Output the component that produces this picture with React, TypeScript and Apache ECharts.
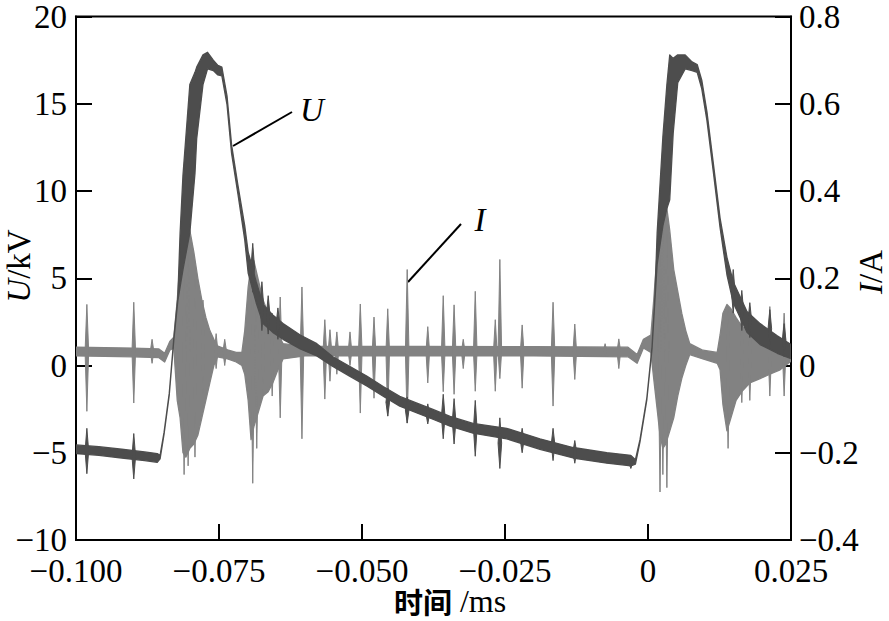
import React, { useEffect, useRef } from 'react';
import * as echarts from 'echarts';

// axis ranges
const xRange = [-0.1, 0.025];
const xStep = 0.025;
const uRange = [-10, 20];
const uStep = 5;
const iRange = [-0.4, 0.8];
const iStep = 0.2;
const iBaseline = 0.032;

// U (kV): [t(ms), low edge, high edge] of the noisy trace
const uBand: number[][] = [
  [-0.1, -5.05, -4.55], [-0.096, -5.15, -4.65], [-0.092, -5.3, -4.8], [-0.088, -5.45, -4.95],
  [-0.0858, -5.55, -5.05], [-0.0853, -5.35, -5.15], [-0.0846, -3.92, -3.82], [-0.0837, -1.7, -1.6],
  [-0.0829, 1.45, 1.55], [-0.0822, 3.7, 3.9], [-0.0818, 4.5, 7.6], [-0.0813, 5.5, 10.9],
  [-0.0801, 7.6, 16.1], [-0.0792, 11.0, 16.8], [-0.0789, 13.0, 17.1], [-0.0778, 16.1, 17.8],
  [-0.077, 17.0, 17.95], [-0.076, 16.9, 17.5], [-0.0752, 16.65, 17.2], [-0.0745, 16.6, 17.1],
  [-0.0736, 14.95, 15.45], [-0.0728, 12.15, 12.65], [-0.0717, 9.85, 10.35], [-0.0705, 7.2, 8.0],
  [-0.0699, 5.3, 6.5], [-0.0685, 3.6, 4.8], [-0.0673, 2.4, 3.5], [-0.0656, 1.9, 2.9],
  [-0.0638, 1.5, 2.4], [-0.0608, 0.95, 1.75], [-0.0579, 0.55, 1.25], [-0.0551, -0.05, 0.5],
  [-0.0521, -0.62, -0.06], [-0.0491, -1.18, -0.62], [-0.0463, -1.76, -1.2], [-0.0434, -2.33, -1.77],
  [-0.0404, -2.72, -2.16], [-0.0376, -3.08, -2.52], [-0.0346, -3.48, -2.92], [-0.0306, -3.88, -3.32],
  [-0.0247, -4.2, -3.6], [-0.0189, -4.8, -4.2], [-0.0131, -5.3, -4.7], [-0.0072, -5.6, -5.0],
  [-0.003, -5.75, -5.15], [-0.0022, -5.65, -5.4], [-0.0014, -4.38, -4.25], [-0.0002, -1.95, -1.85],
  [0.0007, 0.95, 1.05], [0.0012, 3.7, 3.9], [0.0016, 5.8, 7.6], [0.0026, 8.0, 13.1],
  [0.0033, 9.0, 16.1], [0.0038, 9.5, 17.8], [0.0044, 13.3, 17.6], [0.0052, 16.2, 17.8],
  [0.0065, 17.0, 17.8], [0.0077, 16.9, 17.4], [0.0086, 16.8, 17.25], [0.0094, 15.85, 16.35],
  [0.0103, 14.05, 14.55], [0.0114, 11.15, 11.65], [0.0126, 7.9, 8.45], [0.0138, 5.2, 6.2],
  [0.0149, 3.6, 4.8], [0.0173, 1.9, 3.1], [0.0196, 1.2, 2.4], [0.0226, 0.7, 1.7],
  [0.025, 0.4, 1.2],
];

// U spikes: [t, high, low]
const uSpikes: number[][] = [
  [-0.0981, -3.6, -6.2], [-0.0899, -3.9, -6.5], [-0.0691, 7.0, 4.2], [-0.0675, 4.8, 2.0],
  [-0.0664, 4.0, 1.8], [-0.0647, 3.3, 1.5], [-0.0455, -1.3, -2.9], [-0.0421, -1.8, -3.3],
  [-0.0385, -2.2, -3.35], [-0.0358, -1.65, -4.2], [-0.0339, -1.9, -4.5], [-0.0302, -2.0, -5.2],
  [-0.0259, -3.0, -5.9], [-0.022, -3.6, -5.0], [-0.0166, -3.6, -5.45], [-0.0128, -4.3, -5.6],
  [-0.003, -5.3, -5.9], [0.0149, 5.5, 3.0], [0.0164, 4.3, 2.0], [0.0178, 3.6, 1.6],
  [0.0213, 3.2, 1.0], [0.0238, 2.4, 0.5],
];

// I (A): [t, low edge, high edge] of the noisy trace, bursts included
const iBand: number[][] = [
  [-0.1, 0.022, 0.042], [-0.09, 0.02, 0.04], [-0.0855, 0.018, 0.038], [-0.0845, 0.008, 0.028],
  [-0.0836, 0.035, 0.055], [-0.0829, 0.04, 0.065], [-0.0823, -0.08, 0.15], [-0.0818, -0.12, 0.24],
  [-0.0813, -0.2, 0.29], [-0.0808, -0.21, 0.31], [-0.0801, -0.19, 0.31], [-0.0794, -0.18, 0.26],
  [-0.0787, -0.16, 0.2], [-0.078, -0.12, 0.15], [-0.0773, -0.08, 0.11], [-0.0766, -0.04, 0.08],
  [-0.0759, 0.0, 0.06], [-0.0753, 0.02, 0.045], [-0.0735, 0.015, 0.036], [-0.072, 0.008, 0.03],
  [-0.071, 0.0, 0.03], [-0.0705, -0.02, 0.08], [-0.0699, -0.08, 0.18], [-0.0694, -0.17, 0.23],
  [-0.0689, -0.14, 0.24], [-0.0682, -0.11, 0.2], [-0.0673, -0.07, 0.15], [-0.0664, -0.06, 0.12],
  [-0.0656, -0.04, 0.1], [-0.0647, -0.01, 0.07], [-0.0638, 0.015, 0.05], [-0.06, 0.022, 0.044],
  [-0.04, 0.022, 0.044], [-0.02, 0.022, 0.043], [-0.0035, 0.02, 0.042], [-0.0019, 0.005, 0.025],
  [-0.0008, 0.04, 0.06], [0.0005, 0.03, 0.07], [0.001, -0.03, 0.15], [0.0016, -0.1, 0.26],
  [0.0021, -0.16, 0.33], [0.0026, -0.19, 0.37], [0.0031, -0.18, 0.38], [0.0038, -0.15, 0.31],
  [0.0045, -0.12, 0.22], [0.0052, -0.07, 0.17], [0.0059, -0.03, 0.12], [0.0066, 0.0, 0.08],
  [0.0073, 0.025, 0.05], [0.0096, 0.015, 0.035], [0.0121, 0.005, 0.03], [0.0126, -0.01, 0.07],
  [0.0131, -0.09, 0.12], [0.0138, -0.15, 0.14], [0.0145, -0.12, 0.13], [0.0154, -0.08, 0.11],
  [0.0164, -0.06, 0.09], [0.0178, -0.04, 0.08], [0.0196, -0.03, 0.06], [0.0213, -0.02, 0.06],
  [0.0231, -0.01, 0.05], [0.025, 0.01, 0.045],
];

// I spikes: [t, high, low]
const iSpikes: number[][] = [
  [-0.0981, 0.14, -0.105], [-0.0899, 0.145, -0.086], [-0.0867, 0.06, 0.005],
  [-0.0811, 0.25, -0.25], [-0.0804, 0.28, -0.23], [-0.0792, 0.2, -0.21], [-0.0778, 0.15, -0.066],
  [-0.0755, 0.073, -0.007], [-0.074, 0.06, 0.0],
  [-0.0691, 0.24, -0.27], [-0.0684, 0.2, -0.19], [-0.0673, 0.15, -0.07], [-0.0657, 0.12, -0.07],
  [-0.0643, 0.157, -0.12], [-0.0605, 0.18, -0.168], [-0.0565, 0.105, -0.077], [-0.0556, 0.082, -0.036],
  [-0.0544, 0.077, -0.02], [-0.0521, 0.077, 0.0], [-0.0503, 0.141, -0.109], [-0.0479, 0.111, -0.075],
  [-0.0455, 0.13, -0.116], [-0.0421, 0.22, -0.132], [-0.0385, 0.089, -0.04], [-0.0358, 0.16, -0.06],
  [-0.0339, 0.139, -0.066], [-0.0323, 0.06, -0.007], [-0.0302, 0.17, -0.059], [-0.0267, 0.105, -0.059],
  [-0.0259, 0.243, -0.03], [-0.022, 0.093, -0.052], [-0.0166, 0.145, -0.093], [-0.0128, 0.095, -0.032],
  [-0.0075, 0.05, 0.02], [-0.0051, 0.061, -0.007],
  [0.0021, 0.3, -0.29], [0.0026, 0.34, -0.25], [0.0033, 0.3, -0.28],
  [0.014, 0.13, -0.19], [0.0164, 0.12, -0.085], [0.0178, 0.12, -0.08], [0.0213, 0.135, -0.07],
  [0.0238, 0.12, -0.07],
];

const U_COLOR = '#4d4d4d';
const I_COLOR = '#828282';
const SERIF = '"Liberation Serif", "Times New Roman", serif';

const fmt = (digits: number) => (v: number) => {
  if (Math.abs(v) < 1e-9) return '0';
  return (v < 0 ? '\u2212' : '') + Math.abs(v).toFixed(digits);
};

function bandRenderer(band: number[][], color: string) {
  return (params: any, api: any) => {
    if (params.dataIndex !== 0) return null;
    const upper = band.map((p) => api.coord([p[0], p[2]]));
    const lower = band.slice().reverse().map((p) => api.coord([p[0], p[1]]));
    return {
      type: 'polygon',
      shape: { points: upper.concat(lower) },
      style: { fill: color, stroke: color, lineWidth: 1.3, lineJoin: 'round' },
    };
  };
}

function spikeRenderer(color: string, baseOf: (hi: number, lo: number) => number) {
  return (params: any, api: any) => {
    const t = api.value(0);
    const hi = api.value(1);
    const lo = api.value(2);
    const top = api.coord([t, hi]);
    const bot = api.coord([t, lo]);
    const base = api.coord([t, baseOf(hi, lo)]);
    return {
      type: 'polygon',
      shape: {
        points: [
          [top[0], top[1]],
          [base[0] + 1.8, base[1]],
          [bot[0], bot[1]],
          [base[0] - 1.8, base[1]],
        ],
      },
      style: { fill: color, stroke: color, lineWidth: 1 },
    };
  };
}

export default function App() {
  const ref = useRef<HTMLDivElement>(null);
  useEffect(() => {
    document.body.style.margin = '0';
    const chart = echarts.init(ref.current!, null, { renderer: 'svg' });
    const labelStyle = { fontFamily: SERIF, fontSize: 33, lineHeight: 24, color: '#000' };
    const axisLine = { show: true, onZero: false, lineStyle: { color: '#000', width: 2 } };
    const axisTick = { show: true, inside: true, length: 16, lineStyle: { color: '#000', width: 2 } };
    const nameRich = { i: { fontStyle: 'italic', fontFamily: SERIF, fontSize: 33, lineHeight: 26, fill: '#000' } };
    chart.setOption({
      animation: false,
      backgroundColor: '#fff',
      grid: {
        left: 76, top: 12, width: 715, height: 528,
        show: true, borderColor: '#000', borderWidth: 2, backgroundColor: 'transparent',
      },
      xAxis: {
        type: 'value', min: xRange[0], max: xRange[1], interval: xStep,
        axisLine, axisTick, splitLine: { show: false },
        axisLabel: { ...labelStyle, margin: 19, formatter: fmt(3) },
      },
      yAxis: [
        {
          type: 'value', min: uRange[0], max: uRange[1], interval: uStep, position: 'left',
          axisLine, axisTick, splitLine: { show: false },
          axisLabel: { ...labelStyle, margin: 9, formatter: fmt(0) },
        },
        {
          type: 'value', min: iRange[0], max: iRange[1], interval: iStep, position: 'right',
          axisLine, axisTick, splitLine: { show: false },
          axisLabel: { ...labelStyle, margin: 8, formatter: fmt(1) },
        },
      ],
      series: [
        {
          type: 'custom', name: 'I band', yAxisIndex: 1, clip: true,
          data: iBand, encode: { x: 0, y: [1, 2] },
          renderItem: bandRenderer(iBand, I_COLOR),
        },
        {
          type: 'custom', name: 'I spikes', yAxisIndex: 1, clip: true,
          data: iSpikes, encode: { x: 0, y: [1, 2] },
          renderItem: spikeRenderer(I_COLOR, () => iBaseline),
        },
        {
          type: 'custom', name: 'U band', yAxisIndex: 0, clip: true,
          data: uBand, encode: { x: 0, y: [1, 2] },
          renderItem: bandRenderer(uBand, U_COLOR),
        },
        {
          type: 'custom', name: 'U spikes', yAxisIndex: 0, clip: true,
          data: uSpikes, encode: { x: 0, y: [1, 2] },
          renderItem: spikeRenderer(U_COLOR, (hi, lo) => (hi + lo) / 2),
        },
      ],
      graphic: [
        {
          type: 'text', x: 19, y: 266, rotation: Math.PI / 2,
          style: {
            text: '{i|U}/kV', fontFamily: SERIF, fontSize: 33, lineHeight: 26, fill: '#000',
            align: 'center', verticalAlign: 'middle', rich: nameRich,
          },
        },
        {
          type: 'text', x: 871, y: 272, rotation: Math.PI / 2,
          style: {
            text: '{i|I}/A', fontFamily: SERIF, fontSize: 33, lineHeight: 26, fill: '#000',
            align: 'center', verticalAlign: 'middle', rich: nameRich,
          },
        },
        {
          type: 'text', x: 450, y: 601,
          style: {
            text: '{c|时间} {s|/ms}', align: 'center', verticalAlign: 'middle',
            fontFamily: SERIF, fontSize: 32, lineHeight: 28, fill: '#000',
            rich: {
              c: { fontFamily: '"Noto Sans CJK SC"', fontWeight: 'bold', fontSize: 29, lineHeight: 28, fill: '#000' },
              s: { fontFamily: SERIF, fontSize: 32, lineHeight: 28, fill: '#000' },
            },
          },
        },
        { type: 'line', shape: { x1: 233, y1: 146, x2: 292, y2: 112 }, style: { stroke: '#000', lineWidth: 2 } },
        {
          type: 'text', x: 312, y: 110,
          style: { text: 'U', fontFamily: SERIF, fontStyle: 'italic', fontSize: 33, fill: '#000', align: 'center', verticalAlign: 'middle' },
        },
        { type: 'line', shape: { x1: 408, y1: 282, x2: 461, y2: 224 }, style: { stroke: '#000', lineWidth: 2 } },
        {
          type: 'text', x: 480, y: 220,
          style: { text: 'I', fontFamily: SERIF, fontStyle: 'italic', fontSize: 33, fill: '#000', align: 'center', verticalAlign: 'middle' },
        },
      ],
    });
    return () => chart.dispose();
  }, []);
  return <div ref={ref} style={{ width: 889, height: 621 }} />;
}
